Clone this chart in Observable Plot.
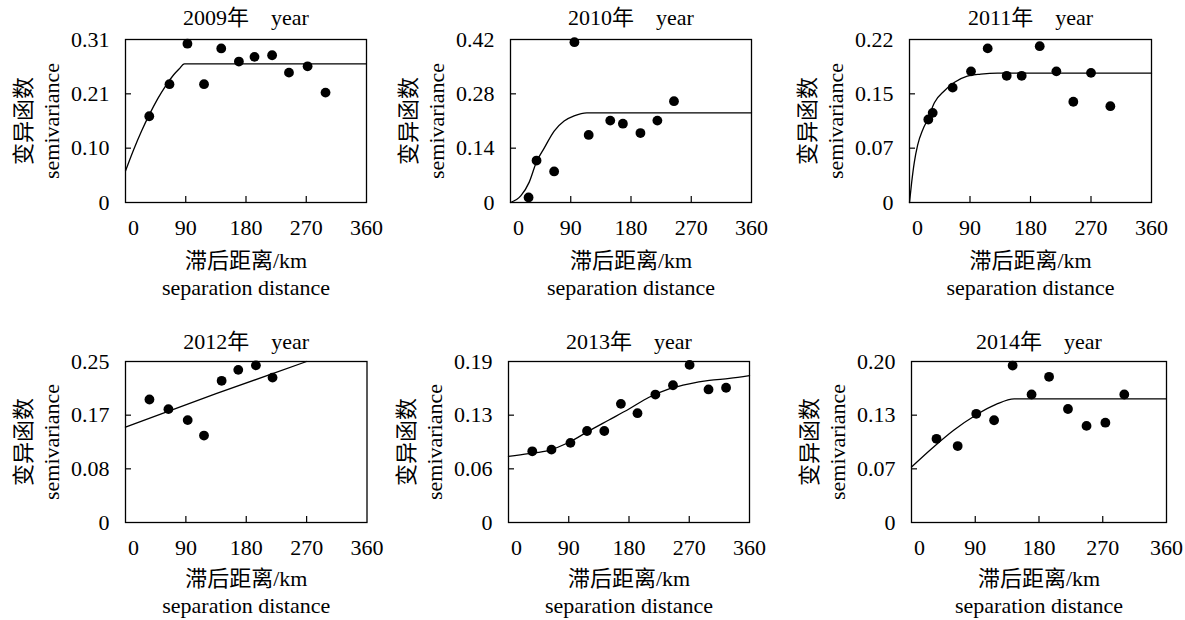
<!DOCTYPE html>
<html><head><meta charset="utf-8">
<script src="https://cdn.jsdelivr.net/npm/d3@7"></script>
<script src="https://cdn.jsdelivr.net/npm/@observablehq/plot@0.6"></script>
<style>
html,body{margin:0;padding:0;background:#fff;}
#root{position:relative;width:1185px;height:620px;overflow:hidden;background:#fff;}
#root svg{position:absolute;}
</style></head><body><div id="root"></div>
<script>
// ---------- data ----------
const years = [2009, 2010, 2011, 2012, 2013, 2014];
const yMax = [0.31, 0.42, 0.22, 0.25, 0.19, 0.20];
const xTickValues = [0, 90, 180, 270, 360];
const yTickLabels = [
  ["0", "0.10", "0.21", "0.31"],
  ["0", "0.14", "0.28", "0.42"],
  ["0", "0.07", "0.15", "0.22"],
  ["0", "0.08", "0.17", "0.25"],
  ["0", "0.06", "0.13", "0.19"],
  ["0", "0.07", "0.13", "0.20"]
];

// observed semivariance points
const lag2009 = [35.5, 65.7, 92.5, 117.3, 143, 169.4, 192.7, 219, 244.2, 272, 298.8];
const gamma2009 = [0.164, 0.225, 0.302, 0.225, 0.293, 0.268, 0.277, 0.280, 0.247, 0.259, 0.209];
const lag2010 = [27, 38.9, 65.2, 95.5, 116.8, 149, 167.9, 194.1, 219.4, 244.2];
const gamma2010 = [0.013, 0.108, 0.080, 0.413, 0.174, 0.211, 0.203, 0.179, 0.211, 0.261];
const lag2011 = [28, 34.5, 64.2, 91.5, 116.3, 144.6, 166.9, 193.7, 218.5, 243.7, 270, 298.8];
const gamma2011 = [0.112, 0.121, 0.155, 0.177, 0.208, 0.171, 0.171, 0.211, 0.177, 0.136, 0.175, 0.130];
const lag2012 = [35.7, 64, 92.7, 117, 143.3, 168.1, 194.4, 219.2];
const gamma2012 = [0.191, 0.176, 0.159, 0.135, 0.220, 0.237, 0.244, 0.225];
const lag2013 = [35.5, 64.2, 92.5, 117.3, 143.1, 167.9, 192.7, 219.4, 245.7, 270.5, 298.8, 325];
const gamma2013 = [0.084, 0.086, 0.094, 0.108, 0.108, 0.140, 0.129, 0.151, 0.162, 0.186, 0.157, 0.159];
const lag2014 = [35.3, 65.2, 91.4, 116.6, 142.8, 169.5, 194.2, 220.9, 247.1, 273.7, 300.4];
const gamma2014 = [0.104, 0.095, 0.135, 0.127, 0.195, 0.159, 0.181, 0.141, 0.120, 0.124, 0.159];

// fitted model curves (vertices)
const fitLag2009 = [0, 12, 24, 36, 48, 60, 72, 80, 88, 360];
const fitGamma2009 = [0.060, 0.100, 0.136, 0.168, 0.197, 0.222, 0.243, 0.254, 0.2635, 0.2635];
const fitLag2010 = [0, 15.6, 28, 38.9, 50.3, 65.2, 80.1, 95, 114, 360];
const fitGamma2010 = [0, 0.0175, 0.0525, 0.105, 0.140, 0.184, 0.210, 0.223, 0.231, 0.231];
const fitLag2011 = [0, 3.2, 7.2, 12.1, 19.6, 27, 37, 52, 67, 86, 106, 131, 360];
const fitGamma2011 = [0, 0.027, 0.0545, 0.0775, 0.098, 0.112, 0.1347, 0.1508, 0.1622, 0.1705, 0.1732, 0.1746, 0.1746];
const fitLag2012 = [0, 135, 270];
const fitGamma2012 = [0.148, 0.200, 0.250];
const fitLag2013 = [0, 30, 60, 90, 120, 150, 180, 210, 240, 270, 300, 330, 360];
const fitGamma2013 = [0.078, 0.0813, 0.0852, 0.0944, 0.108, 0.121, 0.134, 0.1478, 0.1577, 0.1637, 0.1677, 0.170, 0.1733];
const fitLag2014 = [0, 30, 60, 90, 120, 145, 360];
const fitGamma2014 = [0.069, 0.093, 0.115, 0.133, 0.147, 0.1535, 0.1535];

const lags = [lag2009, lag2010, lag2011, lag2012, lag2013, lag2014];
const gammas = [gamma2009, gamma2010, gamma2011, gamma2012, gamma2013, gamma2014];
const fitLags = [fitLag2009, fitLag2010, fitLag2011, fitLag2012, fitLag2013, fitLag2014];
const fitGammas = [fitGamma2009, fitGamma2010, fitGamma2011, fitGamma2012, fitGamma2013, fitGamma2014];

// ---------- layout ----------
const mL = 120, mR = 30, mT = 40, mB = 100;
const layout = [
  {L: 124.5, T: 39, W: 241, H: 163, titleDy: -22, xl1: 58, xl2: 85},
  {L: 509.5, T: 39, W: 241, H: 163, titleDy: -22, xl1: 58, xl2: 85},
  {L: 909, T: 39, W: 242, H: 163, titleDy: -22, xl1: 58, xl2: 85},
  {L: 124.5, T: 361, W: 241.5, H: 161, titleDy: -20, xl1: 56, xl2: 83},
  {L: 507.5, T: 361, W: 241, H: 161, titleDy: -20, xl1: 56, xl2: 83},
  {L: 911, T: 361, W: 255, H: 161, titleDy: -20, xl1: 56, xl2: 83}
];
const curveTypes = ["monotone-x", "monotone-x", "monotone-x", "linear", "monotone-x", "monotone-x"];

const FONT = "'Liberation Serif', 'Times New Roman', 'Noto Sans CJK SC', serif";
const root = document.getElementById("root");

years.forEach((yr, i) => {
  const p = layout[i];
  const ymax = yMax[i];
  const yt = [0, ymax / 3, 2 * ymax / 3, ymax];
  const pts = lags[i].map((d, j) => ({lag: d, gamma: gammas[i][j]}));
  const fit = fitLags[i].map((d, j) => ({lag: d, gamma: fitGammas[i][j]}));
  const txt = {fontSize: 22, lineAnchor: "middle", textAnchor: "middle"};
  const svg = Plot.plot({
    width: p.W + mL + mR,
    height: p.H + mT + mB,
    marginLeft: mL, marginRight: mR, marginTop: mT, marginBottom: mB,
    style: {fontFamily: FONT, fontSize: "22px", color: "black", background: "transparent", overflow: "visible"},
    x: {domain: [0, 360], label: null},
    y: {domain: [0, ymax], label: null},
    marks: [
      Plot.frame({stroke: "black", strokeWidth: 1.3}),
      Plot.tickX(xTickValues.slice(1, 4), {x: d => d, stroke: "black", strokeWidth: 1.2, insetTop: p.H - 6}),
      Plot.tickY(yt.slice(1, 3), {y: d => d, stroke: "black", strokeWidth: 1.2, insetRight: p.W - 6}),
      Plot.axisX(xTickValues.slice(0, 1), {tickSize: 0, tickPadding: 17, dx: 8, label: null, tickFormat: d => String(d)}),
      Plot.axisX(xTickValues.slice(1), {tickSize: 0, tickPadding: 17, label: null, tickFormat: d => String(d)}),
      Plot.axisY(yt, {tickSize: 0, tickPadding: 16, label: null,
        tickFormat: d => yTickLabels[i][yt.indexOf(d)]}),
      Plot.line(fit, {x: "lag", y: "gamma", curve: curveTypes[i], stroke: "black", strokeWidth: 1.3}),
      Plot.dot(pts, {x: "lag", y: "gamma", r: 4.9, fill: "black", stroke: "none"}),
      Plot.text([`${yr}年　year`], {frameAnchor: "top", dy: p.titleDy, ...txt}),
      Plot.text(["滞后距离/km"], {frameAnchor: "bottom", dy: p.xl1, ...txt}),
      Plot.text(["separation distance"], {frameAnchor: "bottom", dy: p.xl2, ...txt}),
      Plot.text(["变异函数"], {frameAnchor: "left", dx: -102, rotate: -90, ...txt}),
      Plot.text(["semivariance"], {frameAnchor: "left", dx: -74, rotate: -90, ...txt})
    ]
  });
  svg.style.left = (p.L - mL) + "px";
  svg.style.top = (p.T - mT) + "px";
  root.appendChild(svg);
});
</script>
</body></html>
